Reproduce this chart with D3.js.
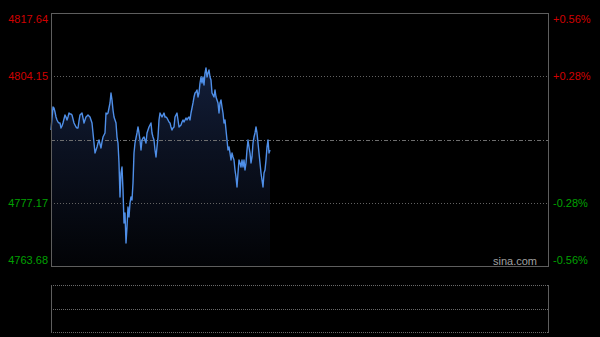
<!DOCTYPE html>
<html>
<head>
<meta charset="utf-8">
<script src="https://cdn.jsdelivr.net/npm/d3@7"></script>
<style>
  html, body { margin: 0; padding: 0; background: #000; }
  svg { display: block; }
  text { font-family: "Liberation Sans", Arial, sans-serif; font-size: 11px; }
</style>
</head>
<body>
<svg width="600" height="337"></svg>
<script>
// Intraday prices, one sample per half minute
var prices = [
  4792.69, 4795.25, 4797.59, 4797.38, 4796.53, 4795.46, 4794.82, 4794.39, 4794.18, 4794.18,
  4793.11, 4793.54, 4794.18, 4795.03, 4795.89, 4795.46, 4794.82, 4795.46, 4796.31, 4796.10,
  4796.10, 4795.89, 4795.03, 4794.18, 4793.75, 4793.33, 4793.11, 4793.11, 4794.61, 4795.89,
  4796.10, 4796.31, 4795.25, 4794.18, 4794.82, 4795.46, 4795.67, 4795.89, 4795.67, 4795.46,
  4794.82, 4794.18, 4792.05, 4789.91, 4787.78, 4788.42, 4789.06, 4789.91, 4790.55, 4789.70,
  4788.85, 4790.13, 4791.19, 4791.62, 4792.05, 4796.31, 4796.10, 4796.31, 4797.38, 4798.45,
  4800.58, 4799.09, 4796.95, 4795.46, 4794.82, 4794.18, 4791.19, 4789.91, 4785.65, 4778.40,
  4783.51, 4784.79, 4779.89, 4772.85, 4774.98, 4768.58, 4772.00, 4776.26, 4774.13, 4777.12,
  4778.40, 4777.76, 4781.38, 4787.78, 4789.91, 4790.98, 4792.05, 4793.33, 4792.05, 4790.55,
  4788.42, 4790.55, 4790.98, 4791.19, 4790.55, 4789.91, 4792.05, 4792.69, 4793.33, 4793.75,
  4794.18, 4792.05, 4791.19, 4790.55, 4788.42, 4786.93, 4789.06, 4791.19, 4794.82, 4796.31,
  4795.89, 4795.46, 4795.89, 4796.31, 4795.46, 4795.46, 4795.25, 4794.82, 4794.39, 4794.18,
  4793.33, 4792.69, 4793.11, 4793.33, 4795.46, 4795.89, 4796.31, 4794.82, 4793.33, 4793.54,
  4793.75, 4794.39, 4794.82, 4794.39, 4794.82, 4795.25, 4794.82, 4795.25, 4795.46, 4794.82,
  4796.31, 4797.38, 4798.45, 4799.72, 4800.58, 4800.79, 4801.22, 4799.72, 4800.58, 4802.71,
  4803.99, 4802.71, 4803.99, 4802.28, 4804.84, 4805.91, 4803.99, 4804.84, 4805.48, 4803.99,
  4803.35, 4800.58, 4800.15, 4799.72, 4801.22, 4799.72, 4799.09, 4798.45, 4796.31, 4798.45,
  4799.09, 4797.59, 4796.31, 4794.18, 4794.82, 4792.69, 4790.55, 4788.42, 4789.06, 4787.78,
  4786.29, 4787.78, 4786.93, 4786.29, 4784.15, 4782.66, 4780.53, 4783.51, 4786.29, 4785.65,
  4784.79, 4786.29, 4784.79, 4786.29, 4784.15, 4785.65, 4788.42, 4790.55, 4789.06, 4787.78,
  4785.65, 4786.93, 4789.91, 4791.19, 4792.05, 4793.33, 4792.05, 4789.91, 4787.78, 4785.65,
  4783.51, 4782.02, 4780.53, 4783.51, 4784.15, 4786.29, 4789.06, 4790.55, 4787.78, 4788.42
];
var sessionSlots = 498;

// Axis ticks
var prevClose = 4790.66;
var priceTicks = [4817.64, 4804.15, 4790.66, 4777.17, 4763.68];
var priceLabels = ["4817.64", "4804.15", "", "4777.17", "4763.68"];
var pctLabels = ["+0.56%", "+0.28%", "", "-0.28%", "-0.56%"];

var svg = d3.select("svg");

var plotLeft = 51, plotRight = 548, plotTop = 13, plotBottom = 266;
var volTop = 285, volBottom = 332;

var x = d3.scaleLinear().domain([0, sessionSlots - 1]).range([plotLeft, plotRight]);
var y = d3.scaleLinear().domain([priceTicks[4], priceTicks[0]]).range([plotBottom, plotTop]);

// gradient under the line
var defs = svg.append("defs");
var grad = defs.append("linearGradient")
  .attr("id", "fillGrad")
  .attr("gradientUnits", "userSpaceOnUse")
  .attr("x1", 0).attr("y1", y(priceTicks[0]))
  .attr("x2", 0).attr("y2", y(priceTicks[4]));
grad.append("stop").attr("offset", "0%").attr("stop-color", "#17264a");
grad.append("stop").attr("offset", "55%").attr("stop-color", "#0b1120");
grad.append("stop").attr("offset", "100%").attr("stop-color", "#020306");

var area = d3.area()
  .x(function(d, i) { return x(i); })
  .y0(plotBottom)
  .y1(function(d) { return y(d); });

svg.append("path")
  .datum(prices)
  .attr("fill", "url(#fillGrad)")
  .attr("d", area);

// grid lines
svg.selectAll(".grid")
  .data(priceTicks.slice(1, 4))
  .enter().append("line")
  .attr("x1", plotLeft).attr("x2", plotRight)
  .attr("y1", function(d) { return Math.round(y(d)) + 0.5; })
  .attr("y2", function(d) { return Math.round(y(d)) + 0.5; })
  .attr("stroke", function(d) { return d === prevClose ? "#6e6e6e" : "#626262"; })
  .attr("stroke-dasharray", function(d) { return d === prevClose ? "4,2,1,2" : "1,2"; });

var line = d3.line()
  .x(function(d, i) { return x(i); })
  .y(function(d) { return y(d); });

svg.append("path")
  .datum(prices)
  .attr("fill", "none")
  .attr("stroke", "#4f8fe8")
  .attr("stroke-width", 1.4)
  .attr("stroke-linejoin", "round")
  .attr("d", line);

// frame
svg.append("rect")
  .attr("x", plotLeft + 0.5).attr("y", plotTop + 0.5)
  .attr("width", plotRight - plotLeft).attr("height", plotBottom - plotTop)
  .attr("fill", "none")
  .attr("stroke", "#5e5e5e");

// price labels
function labelY(d, i) {
  var yy = y(d);
  if (i === 0) yy += 6;
  if (i === priceTicks.length - 1) yy -= 6;
  return yy + 4;
}

svg.selectAll(".pl")
  .data(priceTicks)
  .enter().append("text")
  .attr("x", plotLeft - 3)
  .attr("y", labelY)
  .attr("text-anchor", "end")
  .attr("fill", function(d) { return d > prevClose ? "#d00000" : "#00a000"; })
  .text(function(d, i) { return priceLabels[i]; });

svg.selectAll(".pct")
  .data(priceTicks)
  .enter().append("text")
  .attr("x", plotRight + 5)
  .attr("y", labelY)
  .attr("fill", function(d) { return d > prevClose ? "#d00000" : "#00a000"; })
  .text(function(d, i) { return pctLabels[i]; });

svg.append("text")
  .attr("x", 537).attr("y", 265)
  .attr("text-anchor", "end")
  .attr("fill", "#a0a0a0")
  .text("sina.com");

// volume panel
var volY = [volTop, (volTop + volBottom) / 2, volBottom];
svg.selectAll(".vg")
  .data(volY)
  .enter().append("line")
  .attr("x1", plotLeft).attr("x2", plotRight)
  .attr("y1", function(d) { return Math.round(d) + 0.5; })
  .attr("y2", function(d) { return Math.round(d) + 0.5; })
  .attr("stroke", "#6a6a6a")
  .attr("stroke-dasharray", "1,1");

svg.selectAll(".vb")
  .data([plotLeft, plotRight])
  .enter().append("line")
  .attr("x1", function(d) { return d + 0.5; })
  .attr("x2", function(d) { return d + 0.5; })
  .attr("y1", volTop).attr("y2", volBottom + 1)
  .attr("stroke", "#5e5e5e");
</script>
</body>
</html>
